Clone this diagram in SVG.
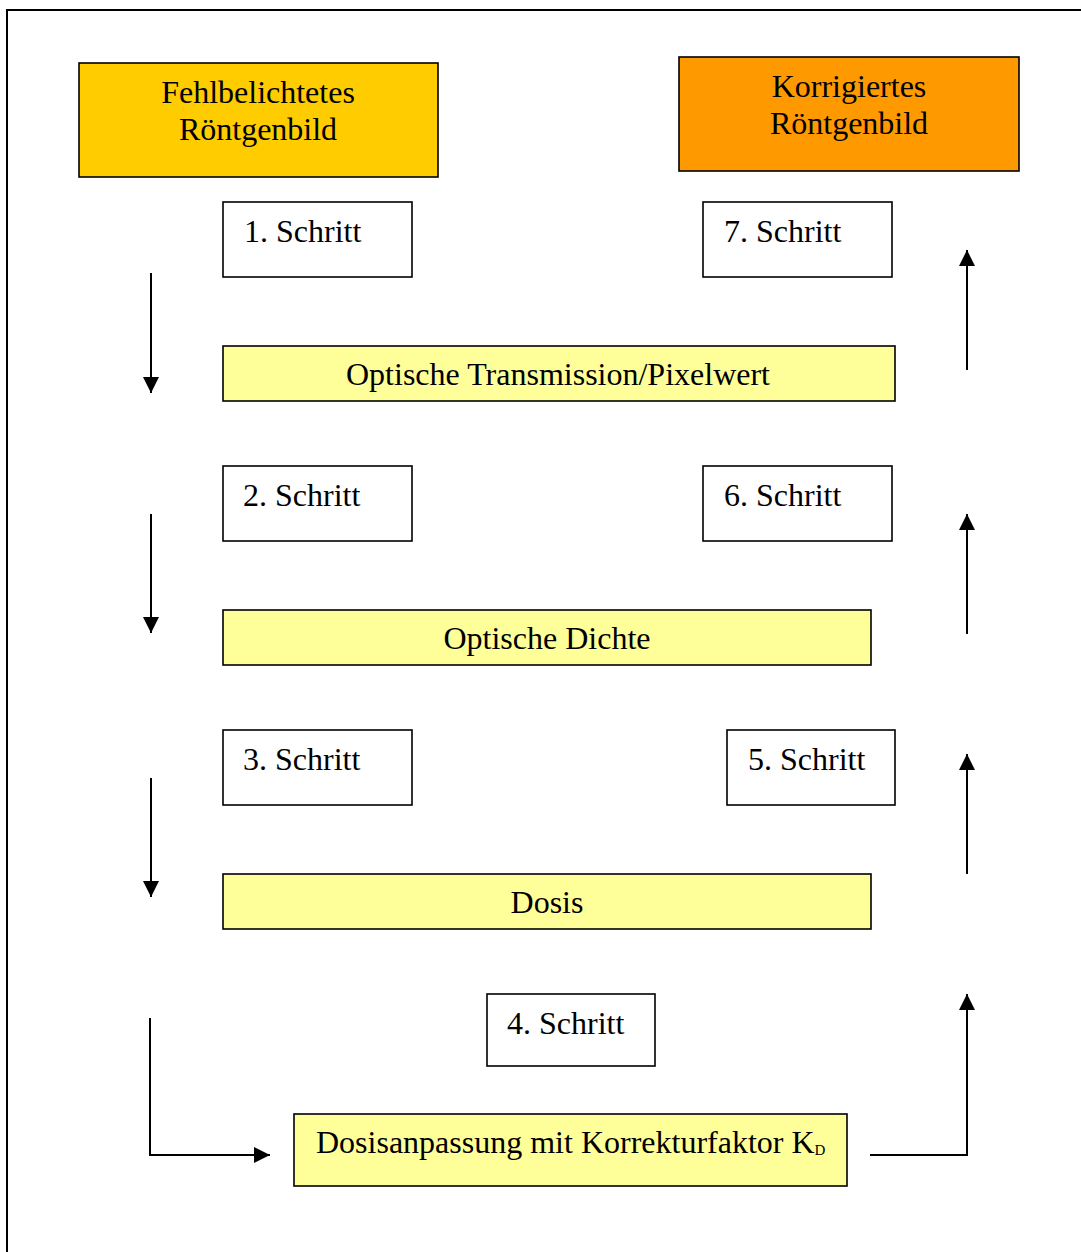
<svg xmlns="http://www.w3.org/2000/svg" width="1081" height="1252" viewBox="0 0 1081 1252">
<defs>
<marker id="ah" viewBox="0 0 10 10" refX="10" refY="5" markerWidth="16" markerHeight="16" markerUnits="userSpaceOnUse" orient="auto"><path d="M0,0 L10,5 L0,10 z" fill="#000"/></marker>
<style>
.box{stroke:#000;stroke-width:1.6}
.t{font-family:"Liberation Serif","Times New Roman",serif;font-size:32px;fill:#000}
.c{text-anchor:middle}
.con{fill:none;stroke:#000;stroke-width:2}
</style>
</defs>
<rect x="0" y="0" width="1081" height="1252" fill="#fff"/>
<path d="M7,1252 V10 H1081" fill="none" stroke="#000" stroke-width="2"/>
<g id="fehl"><rect class="box" x="79" y="63" width="359" height="114" fill="#FFCC00"/><text class="t c" x="258" y="103">Fehlbelichtetes</text><text class="t c" x="258" y="140">Röntgenbild</text></g>
<g id="korr"><rect class="box" x="679" y="57" width="340" height="114" fill="#FF9900"/><text class="t c" x="849" y="97">Korrigiertes</text><text class="t c" x="849" y="134">Röntgenbild</text></g>
<g id="s1"><rect class="box" x="223" y="202" width="189" height="75" fill="#fff"/><text class="t" x="244" y="242">1. Schritt</text></g>
<g id="s7"><rect class="box" x="703" y="202" width="189" height="75" fill="#fff"/><text class="t" x="724" y="242">7. Schritt</text></g>
<g id="trans"><rect class="box" x="223" y="346" width="672" height="55" fill="#FFFF99"/><text class="t c" x="558" y="385">Optische Transmission/Pixelwert</text></g>
<g id="s2"><rect class="box" x="223" y="466" width="189" height="75" fill="#fff"/><text class="t" x="243" y="506">2. Schritt</text></g>
<g id="s6"><rect class="box" x="703" y="466" width="189" height="75" fill="#fff"/><text class="t" x="724" y="506">6. Schritt</text></g>
<g id="dichte"><rect class="box" x="223" y="610" width="648" height="55" fill="#FFFF99"/><text class="t c" x="547" y="649">Optische Dichte</text></g>
<g id="s3"><rect class="box" x="223" y="730" width="189" height="75" fill="#fff"/><text class="t" x="243" y="770">3. Schritt</text></g>
<g id="s5"><rect class="box" x="727" y="730" width="168" height="75" fill="#fff"/><text class="t" x="748" y="770">5. Schritt</text></g>
<g id="dosis"><rect class="box" x="223" y="874" width="648" height="55" fill="#FFFF99"/><text class="t c" x="547" y="913">Dosis</text></g>
<g id="s4"><rect class="box" x="487" y="994" width="168" height="72" fill="#fff"/><text class="t" x="507" y="1034">4. Schritt</text></g>
<g id="anpass"><rect class="box" x="294" y="1114" width="553" height="72" fill="#FFFF99"/><text class="t" x="316" y="1153">Dosisanpassung mit Korrekturfaktor K<tspan font-size="15" dy="2">D</tspan></text></g>
<g id="connectors">
<path class="con" d="M151,273 V393" marker-end="url(#ah)"/>
<path class="con" d="M151,514 V633" marker-end="url(#ah)"/>
<path class="con" d="M151,778 V897" marker-end="url(#ah)"/>
<path class="con" d="M150,1018 V1155 H270" marker-end="url(#ah)"/>
<path class="con" d="M967,370 V250" marker-end="url(#ah)"/>
<path class="con" d="M967,634 V514" marker-end="url(#ah)"/>
<path class="con" d="M967,874 V754" marker-end="url(#ah)"/>
<path class="con" d="M870,1155 H967 V994" marker-end="url(#ah)"/>
</g>
</svg>
